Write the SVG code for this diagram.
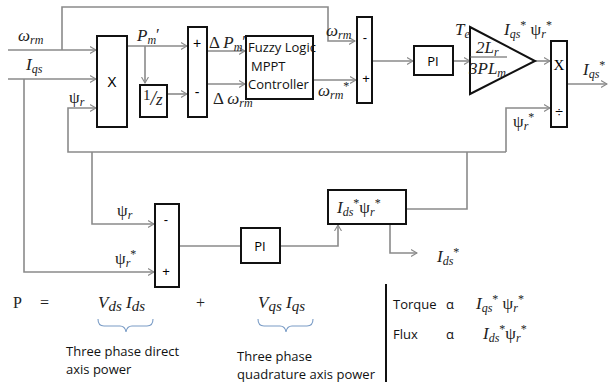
<svg xmlns="http://www.w3.org/2000/svg" width="608" height="384" viewBox="0 0 608 384">
<defs>
<marker id="ar" markerWidth="7" markerHeight="8" refX="6" refY="4" orient="auto" markerUnits="userSpaceOnUse">
<path d="M0,0.5 L6,4 L0,7.5" fill="none" stroke="#8a8a8a" stroke-width="1.1"/>
</marker>
<style>
.c{fill:none;stroke:#8a8a8a;stroke-width:1.6}
.b{fill:#fff;stroke:#111;stroke-width:2}
.m{font-family:"Liberation Serif","DejaVu Serif",serif;font-style:italic;font-size:17px;fill:#222}
.s{font-size:12px}
.g{font-family:"Liberation Serif","DejaVu Serif",serif;font-size:16px;fill:#222}
.t{font-family:"Open Sans","Liberation Sans",sans-serif;font-size:13px;fill:#111}
</style>
</defs>
<rect width="608" height="384" fill="#fff"/>
<g id="connectors">
<path class="c" d="M62,50 V7 H328 V41 H355" marker-end="url(#ar)"/>
<path class="c" d="M8,50 H96" marker-end="url(#ar)"/>
<path class="c" d="M8,79 H96" marker-end="url(#ar)"/>
<path class="c" d="M24,79 V272 H154" marker-end="url(#ar)"/>
<path class="c" d="M506,152 H68 V108 H96" marker-end="url(#ar)"/>
<path class="c" d="M506,152 V108 H550" marker-end="url(#ar)"/>
<path class="c" d="M92,152 V224 H154" marker-end="url(#ar)"/>
<path class="c" d="M406,209 H467 V152"/>
<path class="c" d="M127,46 H187" marker-end="url(#ar)"/>
<path class="c" d="M145,46 V83" marker-end="url(#ar)"/>
<path class="c" d="M167,94 H187" marker-end="url(#ar)"/>
<path class="c" d="M207,51 H245" marker-end="url(#ar)"/>
<path class="c" d="M207,84 H245" marker-end="url(#ar)"/>
<path class="c" d="M313,80 H356" marker-end="url(#ar)"/>
<path class="c" d="M372,61 H413" marker-end="url(#ar)"/>
<path class="c" d="M453,61 H470" marker-end="url(#ar)"/>
<path class="c" d="M535,61 H550" marker-end="url(#ar)"/>
<path class="c" d="M567,84 H607" marker-end="url(#ar)"/>
<path class="c" d="M179,246 H241"/>
<path class="c" d="M280,246 H338 V225" marker-end="url(#ar)"/>
<path class="c" d="M390,224 V253 H417" marker-end="url(#ar)"/>
</g>
<g id="mult">
<rect class="b" x="97" y="36" width="30" height="91"/>
<text x="112" y="87" text-anchor="middle" font-family="Liberation Sans,sans-serif" font-size="14">X</text>
</g>
<g id="delay">
<rect class="b" x="140" y="85" width="27" height="32"/>
<text class="m" x="143" y="105"><tspan font-style="normal" font-size="15" dy="-5">1</tspan><tspan dy="5" font-size="20">/</tspan><tspan>z</tspan></text>
</g>
<g id="sum1">
<rect class="b" x="188" y="27" width="19" height="90"/>
<text x="197" y="48" text-anchor="middle" font-family="Liberation Sans,sans-serif" font-size="14">+</text>
<text x="197" y="97" text-anchor="middle" font-family="Liberation Sans,sans-serif" font-size="14">-</text>
</g>
<g id="fuzzy">
<rect class="b" x="246" y="36" width="67" height="63"/>
<text class="t" x="248" y="52" font-size="14">Fuzzy Logic</text>
<text class="t" x="251" y="71" font-size="14">MPPT</text>
<text class="t" x="248" y="89" font-size="14">Controller</text>
</g>
<g id="sum2">
<rect class="b" x="357" y="17" width="15" height="86"/>
<text x="365" y="42" text-anchor="middle" font-family="Liberation Sans,sans-serif" font-size="13">-</text>
<text x="366" y="83" text-anchor="middle" font-family="Liberation Sans,sans-serif" font-size="13">+</text>
</g>
<g id="pi1">
<rect class="b" x="414" y="46" width="39" height="29"/>
<text x="433" y="66" text-anchor="middle" font-family="Open Sans,Liberation Sans,sans-serif" font-size="13">PI</text>
</g>
<g id="gain">
<path d="M470,27 L535,61 L470,94 Z" fill="#fff" stroke="#111" stroke-width="2"/>
<path d="M470,57 H507" stroke="#555" stroke-width="1.2"/>
<text class="m" x="476" y="53">2<tspan>L</tspan><tspan class="s" dy="3">r</tspan></text>
<text class="m" x="469" y="74">3<tspan>PL</tspan><tspan class="s" dy="3">m</tspan></text>
</g>
<g id="divide">
<rect class="b" x="551" y="41" width="16" height="86"/>
<text x="559" y="70" text-anchor="middle" font-family="Liberation Serif,serif" font-size="15">X</text>
<text x="559" y="117" text-anchor="middle" font-family="Liberation Sans,sans-serif" font-size="14">÷</text>
</g>
<g id="sum3">
<rect class="b" x="155" y="204" width="24" height="83"/>
<text x="166" y="224" text-anchor="middle" font-family="Liberation Sans,sans-serif" font-size="13">-</text>
<text x="166" y="276" text-anchor="middle" font-family="Liberation Sans,sans-serif" font-size="13">+</text>
</g>
<g id="pi2">
<rect class="b" x="241" y="228" width="39" height="35"/>
<text x="260" y="251" text-anchor="middle" font-family="Open Sans,Liberation Sans,sans-serif" font-size="13">PI</text>
</g>
<g id="fluxbox">
<rect class="b" x="328" y="190" width="78" height="34"/>
<text class="m" x="337" y="213">I<tspan class="s" dy="3">ds</tspan><tspan class="s" dy="-9" font-style="normal">*</tspan><tspan font-style="normal" dy="6">ψ</tspan><tspan class="s" dy="3">r</tspan><tspan class="s" dy="-9" font-style="normal">*</tspan></text>
</g>
<g id="labels">
<text class="m" x="18" y="41">ω<tspan class="s" dy="3">rm</tspan></text>
<text class="m" x="26" y="70">I<tspan class="s" dy="3">qs</tspan></text>
<text class="m" x="69" y="103"><tspan font-style="normal">ψ</tspan><tspan class="s" dy="3">r</tspan></text>
<text class="m" x="137" y="41">P<tspan class="s" dy="3">m</tspan><tspan dy="-4" font-style="normal">′</tspan></text>
<text class="m" x="209" y="48"><tspan font-style="normal">Δ </tspan>P<tspan class="s" dy="3">m</tspan><tspan dy="-4" font-style="normal">′</tspan></text>
<text class="m" x="213" y="104"><tspan font-style="normal">Δ </tspan>ω<tspan class="s" dy="3">rm</tspan></text>
<text class="m" x="326" y="36">ω<tspan class="s" dy="3">rm</tspan></text>
<text class="m" x="318" y="96">ω<tspan class="s" dy="3">rm</tspan><tspan class="s" dy="-9" font-style="normal">*</tspan></text>
<text class="m" x="455" y="35">T<tspan class="s" dy="3">e</tspan></text>
<text class="m" x="504" y="35">I<tspan class="s" dy="3">qs</tspan><tspan class="s" dy="-9" font-style="normal">*</tspan><tspan font-style="normal" dy="6"> ψ</tspan><tspan class="s" dy="3">r</tspan><tspan class="s" dy="-9" font-style="normal">*</tspan></text>
<text class="m" x="583" y="75">I<tspan class="s" dy="3">qs</tspan><tspan class="s" dy="-9" font-style="normal">*</tspan></text>
<text class="m" x="513" y="127"><tspan font-style="normal">ψ</tspan><tspan class="s" dy="3">r</tspan><tspan class="s" dy="-9" font-style="normal">*</tspan></text>
<text class="m" x="117" y="216"><tspan font-style="normal">ψ</tspan><tspan class="s" dy="3">r</tspan></text>
<text class="m" x="115" y="264"><tspan font-style="normal">ψ</tspan><tspan class="s" dy="3">r</tspan><tspan class="s" dy="-9" font-style="normal">*</tspan></text>
<text class="m" x="437" y="262">I<tspan class="s" dy="3">ds</tspan><tspan class="s" dy="-9" font-style="normal">*</tspan></text>
</g>
<g id="equation">
<text class="g" x="13" y="308" font-size="20">P</text>
<text class="g" x="40" y="308" font-size="20">=</text>
<text class="m" x="98" y="308" font-size="21">V<tspan font-size="15" dy="3">ds</tspan><tspan dy="-3"> I</tspan><tspan font-size="15" dy="3">ds</tspan></text>
<text class="g" x="196" y="308" font-size="20" fill="#444">+</text>
<text class="m" x="258" y="308" font-size="21">V<tspan font-size="15" dy="3">qs</tspan><tspan dy="-3"> I</tspan><tspan font-size="15" dy="3">qs</tspan></text>
<path d="M98,319 Q98,326 104,326 H120 Q125,326 126,332 Q127,326 132,326 H147 Q153,326 153,319" fill="none" stroke="#7a9cc6" stroke-width="1.1"/>
<path d="M258,319 Q258,326 264,326 H280 Q285,326 286,332 Q287,326 292,326 H307 Q313,326 313,319" fill="none" stroke="#7a9cc6" stroke-width="1.1"/>
<text class="t" x="66" y="356" font-size="13.5">Three phase direct</text>
<text class="t" x="66" y="374" font-size="13.5">axis power</text>
<text class="t" x="237" y="361" font-size="13.5">Three phase</text>
<text class="t" x="237" y="379" font-size="13.5" textLength="138">quadrature axis power</text>
<path d="M386,284 V382" stroke="#111" stroke-width="2"/>
<text class="t" x="393" y="309">Torque</text>
<text class="t" x="446" y="309">α</text>
<text class="m" x="476" y="309">I<tspan class="s" dy="3">qs</tspan><tspan class="s" dy="-9" font-style="normal">*</tspan><tspan font-style="normal" dy="6"> ψ</tspan><tspan class="s" dy="3">r</tspan><tspan class="s" dy="-9" font-style="normal">*</tspan></text>
<text class="t" x="393" y="339">Flux</text>
<text class="t" x="446" y="339">α</text>
<text class="m" x="483" y="339">I<tspan class="s" dy="3">ds</tspan><tspan class="s" dy="-9" font-style="normal">*</tspan><tspan font-style="normal" dy="6">ψ</tspan><tspan class="s" dy="3">r</tspan><tspan class="s" dy="-9" font-style="normal">*</tspan></text>
</g>
</svg>
